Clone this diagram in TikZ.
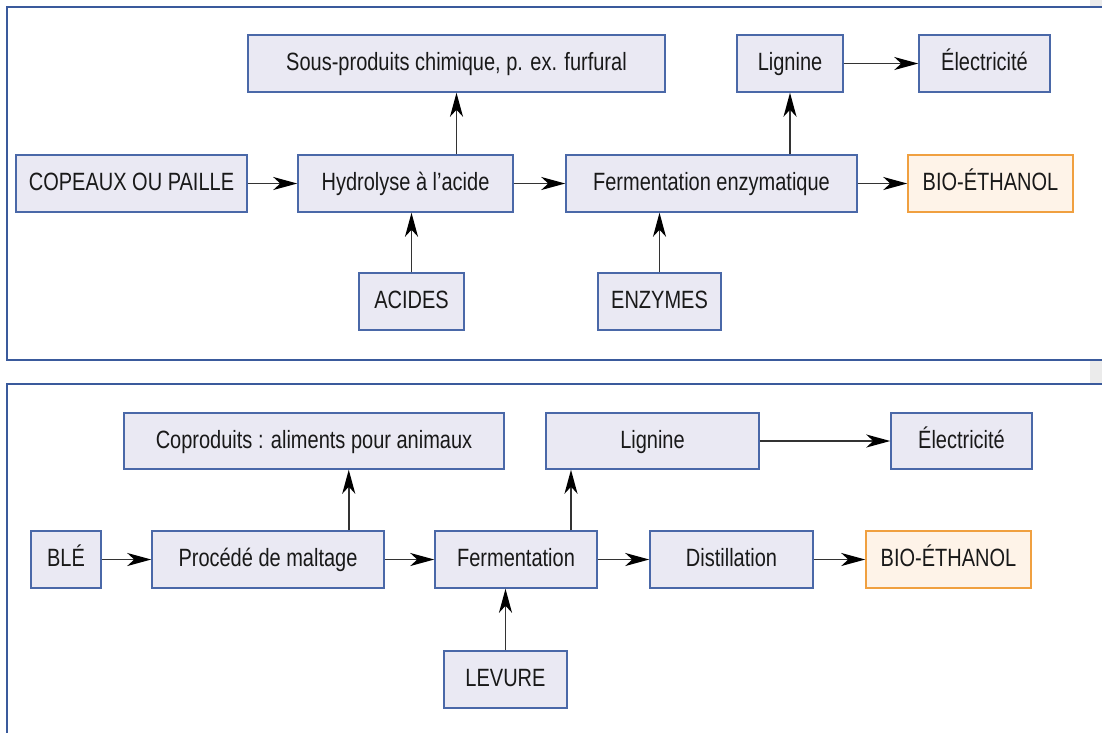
\documentclass[tikz,border=0pt]{standalone}
\usepackage{fontspec}
\setmainfont{Liberation Sans}[FakeStretch=0.8]
\usepackage{tikz}
\usetikzlibrary{arrows.meta,calc}
\definecolor{boxfill}{HTML}{EAE9F3}
\definecolor{boxline}{HTML}{4A68A8}
\definecolor{outfill}{HTML}{FEF3E8}
\definecolor{outline}{HTML}{F0A040}
\definecolor{panelline}{HTML}{3A5A9C}
\definecolor{arrline}{HTML}{333333}
\tikzset{
  stepbox/.style={draw=boxline,fill=boxfill,line width=1.5pt,minimum height=57pt,inner sep=0pt,
    text height=18pt,text depth=4pt,text=black!90,font=\fontsize{25}{29}\selectfont},
  outbox/.style={stepbox,draw=outline,fill=outfill},
  arr/.style={draw=arrline,line width=1.9pt,-{Stealth[length=24pt,width=13pt,inset=7pt,color=black]}},
  panel/.style={draw=panelline,fill=white,line width=1.5pt}
}
\begin{document}
\begin{tikzpicture}[x=1pt,y=-1pt]
\useasboundingbox (0,0) rectangle (1102,732);
\clip (0,0) rectangle (1102,732);
\fill[black!8] (1090,0) rectangle (1102,732);
\draw[panel] (7,7) rectangle (1120,360);
\draw[panel] (7,384) rectangle (1120,760);

\node[stepbox,minimum width=417pt] (sous) at (456.5,63.5) {Sous-produits chimique, p. ex. furfural};
\node[stepbox,minimum width=106pt] (lig1) at (790,63.5) {Lignine};
\node[stepbox,minimum width=131pt] (elec1) at (984.5,63.5) {Électricité};
\node[stepbox,minimum width=231pt] (cop) at (131.5,183.5) {COPEAUX OU PAILLE};
\node[stepbox,minimum width=215pt] (hyd) at (405.5,183.5) {Hydrolyse à l’acide};
\node[stepbox,minimum width=291pt] (ferm1) at (711.5,183.5) {Fermentation enzymatique};
\node[outbox,minimum width=165pt] (bio1) at (990.5,183.5) {BIO-ÉTHANOL};
\node[stepbox,minimum width=105pt] (acid) at (411.5,301.5) {ACIDES};
\node[stepbox,minimum width=123pt] (enz) at (659.5,301.5) {ENZYMES};

\draw[arr] (cop) -- (hyd);
\draw[arr] (hyd) -- (ferm1);
\draw[arr] (ferm1) -- (bio1);
\draw[arr] (lig1) -- (elec1);
\draw[arr] (hyd.north -| sous.south) -- (sous.south);
\draw[arr] (ferm1.north -| lig1.south) -- (lig1.south);
\draw[arr] (acid.north) -- (acid.north |- hyd.south);
\draw[arr] (enz.north) -- (enz.north |- ferm1.south);

\node[stepbox,minimum width=380pt,minimum height=56pt] (copr) at (314,441) {Coproduits : aliments pour animaux};
\node[stepbox,minimum width=213pt,minimum height=56pt] (lig2) at (652.5,441) {Lignine};
\node[stepbox,minimum width=141pt,minimum height=56pt] (elec2) at (961.5,441) {Électricité};
\node[stepbox,minimum width=70pt] (ble) at (66,559.5) {BLÉ};
\node[stepbox,minimum width=232pt] (malt) at (268,559.5) {Procédé de maltage};
\node[stepbox,minimum width=162pt] (ferm2) at (516,559.5) {Fermentation};
\node[stepbox,minimum width=163pt] (dist) at (731.5,559.5) {Distillation};
\node[outbox,minimum width=165pt] (bio2) at (948.5,559.5) {BIO-ÉTHANOL};
\node[stepbox,minimum width=123pt] (lev) at (505.5,679.5) {LEVURE};

\draw[arr] (ble) -- (malt);
\draw[arr] (malt) -- (ferm2);
\draw[arr] (ferm2) -- (dist);
\draw[arr] (dist) -- (bio2);
\draw[arr] (lig2) -- (elec2);
\draw[arr] ([xshift=-36pt]malt.north east) -- ([xshift=-36pt]malt.north east |- copr.south);
\draw[arr] ([xshift=55pt]ferm2.north) -- ([xshift=55pt]ferm2.north |- lig2.south);
\draw[arr] (lev.north) -- (lev.north |- ferm2.south);
\end{tikzpicture}
\end{document}
